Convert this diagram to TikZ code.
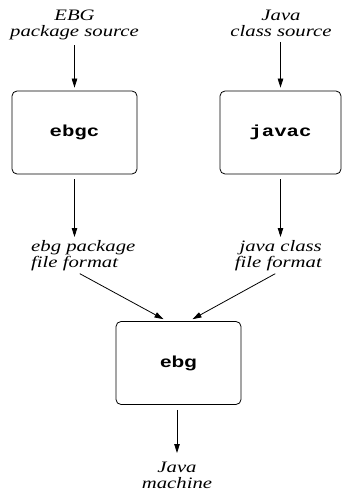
\documentclass[tikz,border=0pt]{standalone}
\usepackage{fontspec}
\setmainfont{Liberation Serif}[FakeStretch=1.3]
\newfontfamily\progmono{Liberation Mono}[FakeStretch=1.3]
\newfontfamily\progsans{Liberation Sans}[FakeStretch=1.3]
\usetikzlibrary{arrows.meta,positioning}

\begin{document}
\begin{tikzpicture}[x=1bp,y=-1bp,
	procbox/.style={draw,line width=0.8bp,rounded corners=5bp,minimum width=125bp,minimum height=83bp,inner sep=0pt,font=\bfseries\fontsize{16}{16}\selectfont},
	filelbl/.style={inner sep=0pt,font=\itshape\fontsize{16}{16}\selectfont},
	flow/.style={line width=0.8bp,-{Triangle[length=9bp,width=5.5bp]},shorten <=5bp,shorten >=3bp}]
				\useasboundingbox (0,0) rectangle (342,493);
				\node[filelbl,anchor=north,align=center] (ebgsrc) at (74.5,10) {EBG\\package source};
				\node[filelbl,anchor=north,align=center] (javasrc) at (281,10) {Java\\class source};
				\node[procbox] (ebgc) at (74.5,132.5) {\progmono ebgc};
				\node[procbox,minimum width=121bp] (javac) at (280.5,132.5) {\progmono javac};
				\node[filelbl,anchor=north west,align=left] (ebgfmt) at (31,240) {ebg package\\file format};
				\node[filelbl,anchor=north east,align=right] (javafmt) at (322,240) {java class\\file format};
				\node[procbox] (ebg) at (178.5,363) {\progsans ebg};
				\node[filelbl,anchor=north,align=center] (jvm) at (177,462) {Java\\machine};
				\coordinate (ebgin) at ([xshift=-11.5bp]ebg.north);
				\coordinate (javain) at ([xshift=10.5bp]ebg.north);
				
				\draw[flow] (ebgsrc) -- (ebgc);
				\draw[flow] (javasrc.south -| javac.north) -- (javac);
				\draw[flow] (ebgc) -- (ebgc.south |- ebgfmt.north);
				\draw[flow] (javac) -- (javac.south |- javafmt.north);
				\draw[flow,shorten <=6bp,shorten >=4bp] (ebgc.south |- ebgfmt.south) -- (ebgin);
				\draw[flow,shorten <=6bp,shorten >=4bp] (javac.south |- javafmt.south) -- (javain);
				\draw[flow,shorten >=9bp] (ebg.south -| jvm.north) -- (jvm);
				\end{tikzpicture}
\end{document}
